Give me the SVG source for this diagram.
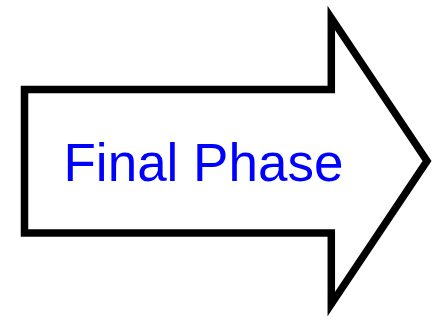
<svg xmlns="http://www.w3.org/2000/svg" width="433" height="320" viewBox="0 0 433 320">
<style>
.arrow{fill:#ffffff;stroke:#000000;stroke-width:7.5;stroke-linejoin:miter;stroke-miterlimit:10}
.label{font-family:"Liberation Sans",Arial,sans-serif;font-size:53px;fill:#0000ff}
</style>
<rect width="433" height="320" fill="#ffffff"/>
<g id="final-phase">
<polygon class="arrow" points="24.5,89.5 331.3,89.5 331.3,18 427,161 331.3,304 331.3,233 24.5,233"/>
<text class="label" x="63.5" y="181">Final Phase</text>
</g>
<g id="connectors"/>
</svg>
